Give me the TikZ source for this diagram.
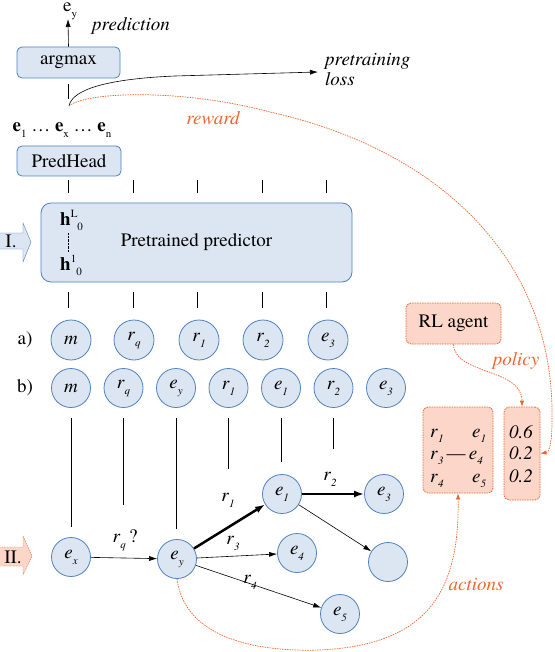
\documentclass[tikz,border=0pt]{standalone}
\usepackage{fontspec}
\setmainfont{texgyretermes-regular.otf}[BoldFont=texgyretermes-bold.otf,ItalicFont=texgyretermes-italic.otf,BoldItalicFont=texgyretermes-bolditalic.otf]
\usetikzlibrary{arrows.meta}
\definecolor{boxblue}{RGB}{220,230,242}
\definecolor{lineblue}{RGB}{79,129,189}
\definecolor{rlorange}{RGB}{240,100,42}
\definecolor{rlfill}{RGB}{252,214,200}
\newcommand{\lo}[1]{\raisebox{-0.7ex}{\fontsize{11}{11}\selectfont #1}}
\newcommand{\hi}[1]{\raisebox{0.9ex}{\fontsize{11}{11}\selectfont #1}}
\newcommand{\tk}[2]{\textit{#1}\lo{\textit{#2}}}

\begin{document}
\begin{tikzpicture}[x=1pt,y=-1pt,
  bluebox/.style={draw=lineblue,fill=boxblue,rounded corners=5pt,line width=0.8pt},
  tok/.style={circle,draw=lineblue,fill=boxblue,line width=0.8pt,minimum size=39pt},
  rlbox/.style={draw=rlorange,fill=rlfill,rounded corners=5pt,dash pattern=on 1.5pt off 1pt,line width=0.8pt},
  olink/.style={rlorange,dash pattern=on 1.5pt off 1pt,line width=0.7pt,-{Latex[length=6pt,width=4.5pt]}},
  blink/.style={-{Latex[length=8pt,width=5pt]},line width=0.6pt},
  olabel/.style={font=\fontsize{19}{21}\selectfont\itshape,text=rlorange}]
 	\tikzstyle{every node}+=[inner sep=0pt,font=\fontsize{19}{21}\selectfont]
 	\useasboundingbox (0,0) rectangle (554,652);
 	% top: argmax and prediction
 	\node[bluebox,minimum width=103pt,minimum height=31pt] (argmax) at (68.5,62.5) {argmax};
 	\coordinate (eytop) at (68,19);
 	\node[anchor=base west] (eyout) at (63,12) {e\lo{y}};
 	\draw[blink] (argmax.north) -- (eytop);
 	\node[font=\fontsize{19}{21}\selectfont\itshape] (predlbl) at (131,26) {prediction};
 	\coordinate (fork) at (69,106);
 	\draw ([yshift=-6pt]argmax.south) -- ([yshift=-21pt]argmax.south);
 	\node[anchor=west,align=left,font=\fontsize{19}{20}\selectfont\itshape] (loss) at (325,70) {pretraining\\loss};
 	\coordinate (lossin) at (318,72);
 	\draw[blink] (fork) .. controls (72,90) and (105,79) .. (175,76) -- (lossin);
 	\node[olabel] (rewardlbl) at (213,118) {reward};
 	% I. pretrained predictor
 	\node (elist) at (62,130) {\textbf{e}\lo{1} … \textbf{e}\lo{x} … \textbf{e}\lo{n}};
 	\node[bluebox,minimum width=104pt,minimum height=30pt] (predhead) at (69,161) {PredHead};
 	\node[bluebox,rounded corners=10pt,minimum width=311pt,minimum height=79pt] (pred) at (196.5,242.5) {Pretrained predictor};
 	\node[anchor=base west] (hL) at (60,225) {\textbf{h}\hi{L}\lo{0}};
 	\node[anchor=base west] (h1) at (60,270) {\textbf{h}\hi{1}\lo{0}};
 	\draw[densely dotted] (68,233) -- (68,252);
 	\foreach \x in {68,133,197,262,326} {
 	  \draw (\x,180) -- (\x,193);
 	  \draw (\x,292) -- (\x,308);
 	}
 	\draw[lineblue,fill=boxblue] (-1,233) -- (23,233) -- (23,223) -- (31,242) -- (23,262) -- (23,249) -- (-1,249) -- cycle;
 	\node (stepI) at (11,241) {I.};
 	% token rows a) and b)
 	\node (rowa) at (25,340) {a)};
 	\node (rowb) at (25,388) {b)};
 	\foreach \x/\t [count=\i] in {71/{\textit{m}},134/{\tk{r}{q}},199/{\tk{r}{1}},263/{\tk{r}{2}},328/{\tk{e}{3}}}
 	  \node[tok,minimum size=40pt] (a\i) at (\x,340) {\t};
 	\foreach \x/\t [count=\i] in {71/{\textit{m}},123.5/{\tk{r}{q}},176/{\tk{e}{y}},228.5/{\tk{r}{1}},281/{\tk{e}{1}},333.5/{\tk{r}{2}},386/{\tk{e}{3}}}
 	  \node[tok] (b\i) at (\x,388) {\t};
 	\foreach \i/\len in {1/109,2/87,3/111,4/51,5/44,6/31}
 	  \draw ([yshift=-10pt]b\i.south) -- ++(0,\len);
 	% II. path search
 	\draw[rlorange,fill=rlfill,dash pattern=on 1.5pt off 1pt] (-1,547) -- (23,547) -- (23,536) -- (32,556) -- (23,575) -- (23,566) -- (-1,566) -- cycle;
 	\node (stepII) at (13,557) {II.};
 	\node[tok] (gx) at (71,557) {\tk{e}{x}};
 	\node[tok] (gy) at (177,559) {\tk{e}{y}};
 	\node[tok] (g1) at (282,494) {\tk{e}{1}};
 	\node[tok] (g3) at (384,494) {\tk{e}{3}};
 	\node[tok] (g4) at (297,553) {\tk{e}{4}};
 	\node[tok] (g0) at (388,562) {};
 	\node[tok] (g5) at (340,614) {\tk{e}{5}};
 	\draw[blink] (gx) -- (gy);
 	\draw[-{Latex[length=10pt,width=7pt]},line width=2.5pt] (gy) -- (g1);
 	\draw[-{Latex[length=10pt,width=7pt]},line width=2.5pt] (g1) -- (g3);
 	\draw[blink] (gy) -- (g4);
 	\draw[blink] (gy) -- (g5);
 	\draw[blink] (g1) -- (g0);
 	\node (lrq) at (125,540) {\tk{r}{q}\,?};
 	\node (lr1) at (228,500) {\tk{r}{1}};
 	\node (lr2) at (330,479) {\tk{r}{2}};
 	\node (lr3) at (233,543) {\tk{r}{3}};
 	\node (lr4) at (250,582) {\tk{r}{4}};
 	% RL agent
 	\node[rlbox,minimum width=95pt,minimum height=41pt] (agent) at (453.5,323.5) {RL agent};
 	\node[rlbox,minimum width=70pt,minimum height=86pt] (acts) at (458,450) {};
 	\node[rlbox,minimum width=36pt,minimum height=93pt] (probs) at (522,453.5) {};
 	\node[anchor=base west] (ar1) at (430,437) {\tk{r}{1}};
 	\node[anchor=base west] (ae1) at (472,437) {\tk{e}{1}};
 	\node[anchor=base west] (ar3) at (430,459) {\tk{r}{3}\,—\,\tk{e}{4}};
 	\node[anchor=base west] (ar4) at (430,482) {\tk{r}{4}};
 	\node[anchor=base west] (ae5) at (472,482) {\tk{e}{5}};
 	\node[anchor=base,font=\fontsize{19}{21}\selectfont\itshape] (p1) at (521,438) {0.6};
 	\node[anchor=base,font=\fontsize{19}{21}\selectfont\itshape] (p2) at (521,459) {0.2};
 	\node[anchor=base,font=\fontsize{19}{21}\selectfont\itshape] (p3) at (521,482) {0.2};
 	\draw[olink] (agent.south) .. controls (455,375) and (522,368) .. (probs.north);
 	\node[olabel] (policylbl) at (516,361) {policy};
 	\draw[olink] (fork) .. controls (85,92) and (180,88) .. (270,112) .. controls (440,150) and (555,260) .. (552,420) .. controls (552,440) and (550,452) .. (probs.east);
 	\draw[olink] (gy.south) .. controls (185,640) and (260,652) .. (320,650) .. controls (420,645) and (460,600) .. (acts.south);
 	\node[olabel] (actionslbl) at (476,585) {actions};
\end{tikzpicture}
\end{document}
